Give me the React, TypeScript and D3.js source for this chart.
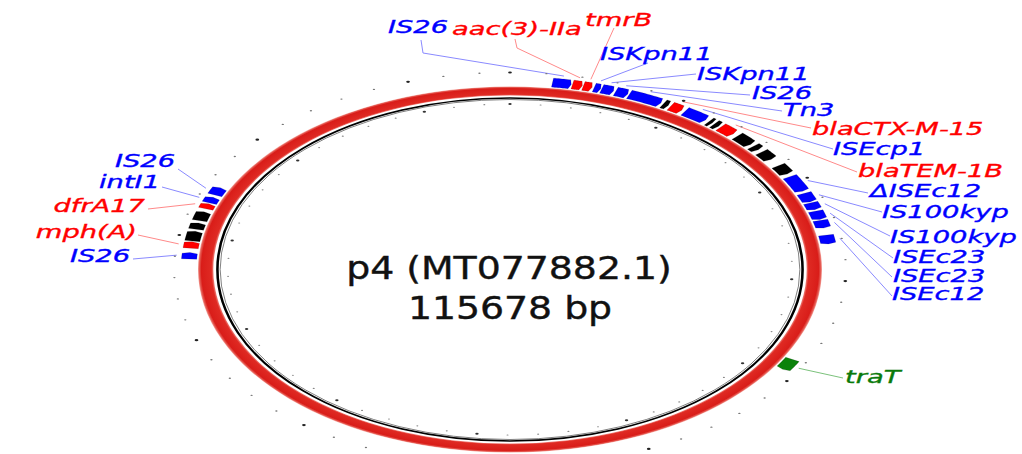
import React from 'react';
import * as d3 from 'd3';

// ---------------- data ----------------
const plasmidName = 'p4 (MT077882.1)';
const plasmidLength = 115678;
const tickStep = 2000;
const majorTickStep = 10000;

const featureNames = [
  'IS26', 'aac(3)-IIa', 'tmrB', 'ISKpn11', 'ISKpn11', 'IS26', 'Tn3', '',
  'blaCTX-M-15', 'ISEcp1', '', '', 'blaTEM-1B', '', '', '', '',
  'ΔISEc12', 'IS100kyp', 'IS100kyp', 'ISEc23', 'ISEc23', 'ISEc12',
  'traT',
  'IS26', 'mph(A)', '', '', '', 'dfrA17', 'intI1', 'IS26',
];
const featureStarts = [
  2440, 3600, 4240, 4880, 5330, 6170, 7000, 9160,
  9640, 10600, 12300, 12690, 13170, 14460, 15810, 16550, 18190,
  19440, 21270, 22270, 23130, 24070, 25550,
  38080,
  87787, 88848, 89555, 90712, 91579, 92799, 93409, 94245,
];
const featureEnds = [
  3530, 4180, 4760, 5270, 6040, 6910, 9000, 9480,
  10380, 12050, 12530, 13010, 14140, 15580, 16260, 17450, 19150,
  21050, 22170, 22970, 23970, 24840, 26410,
  39200,
  88430, 89491, 90519, 91354, 92479, 93313, 93988, 95017,
];
const featureKinds = [
  'mobile', 'resistance', 'resistance', 'mobile', 'mobile', 'mobile', 'mobile', 'other',
  'resistance', 'mobile', 'other', 'other', 'resistance', 'other', 'other', 'other', 'other',
  'mobile', 'mobile', 'mobile', 'mobile', 'mobile', 'mobile',
  'transfer',
  'mobile', 'resistance', 'other', 'other', 'other', 'resistance', 'mobile', 'mobile',
];

// ---------------- layout (label placement, not data) ----------------
type LabelLayout = { f: number; x: number; y: number; anchor: 'start' | 'end'; path: [number, number][] };
const labelLayout: LabelLayout[] = [
  { f: 0, x: 388, y: 33, anchor: 'start', path: [[423, 53], [421, 40]] },
  { f: 1, x: 452, y: 35, anchor: 'start', path: [[517, 48], [515, 39]] },
  { f: 2, x: 585, y: 26, anchor: 'start', path: [[614, 28]] },
  { f: 3, x: 600, y: 60, anchor: 'start', path: [[648, 63]] },
  { f: 4, x: 697, y: 80, anchor: 'start', path: [[696, 74]] },
  { f: 5, x: 752, y: 99, anchor: 'start', path: [[750, 95]] },
  { f: 6, x: 783, y: 116, anchor: 'start', path: [[782, 111]] },
  { f: 8, x: 812, y: 135, anchor: 'start', path: [[811, 128]] },
  { f: 9, x: 833, y: 155, anchor: 'start', path: [[833, 149]] },
  { f: 12, x: 858, y: 177, anchor: 'start', path: [[857, 172]] },
  { f: 17, x: 870, y: 197, anchor: 'start', path: [[868, 193]] },
  { f: 18, x: 882, y: 218, anchor: 'start', path: [[882, 212]] },
  { f: 19, x: 890, y: 243, anchor: 'start', path: [[890, 236]] },
  { f: 20, x: 893, y: 263, anchor: 'start', path: [[893, 258]] },
  { f: 21, x: 893, y: 282, anchor: 'start', path: [[892, 277]] },
  { f: 22, x: 892, y: 300, anchor: 'start', path: [[892, 296]] },
  { f: 23, x: 845, y: 383, anchor: 'start', path: [[843, 378]] },
  { f: 31, x: 175, y: 167, anchor: 'end', path: [[178, 169]] },
  { f: 30, x: 160, y: 188, anchor: 'end', path: [[162, 187]] },
  { f: 29, x: 145, y: 212, anchor: 'end', path: [[148, 209]] },
  { f: 25, x: 137, y: 238, anchor: 'end', path: [[138, 235]] },
  { f: 24, x: 130, y: 262, anchor: 'end', path: [[133, 259]] },
];

const kindFill: Record<string, string> = {
  mobile: '#0000ff',
  resistance: '#ff0000',
  other: '#000000',
  transfer: '#0a820a',
};
const kindLabel: Record<string, string> = {
  mobile: '#0000ff',
  resistance: '#ff0000',
  other: '#000000',
  transfer: '#0a7a0a',
};
const kindLeader: Record<string, string> = {
  mobile: '#8a8aff',
  resistance: '#ff8a8a',
  other: '#888888',
  transfer: '#7cc27c',
};

const W = 1022;
const H = 454;
const cx = 510;
const cy = 269.5;
const sx = 1.705;
const R = {
  ringIn: 174,
  ringOut: 183,
  line1: 171.6,
  line2: 170.0,
  featIn: 184,
  featOut: 193,
  lead: 196,
  tickOut: 197,
  tickIn: 165.5,
};

const angle = d3.scaleLinear().domain([0, plasmidLength]).range([0, 2 * Math.PI]);

const radialLine = d3
  .lineRadial<[number, number]>()
  .angle((d) => d[0])
  .radius((d) => d[1])
  .curve(d3.curveLinearClosed);

function arrowPath(s: number, e: number): string {
  const a0 = angle(s);
  const a1 = angle(e);
  const head = Math.min(0.006, (a1 - a0) * 0.25);
  const bodyEnd = a1 - head;
  const mid = (R.featIn + R.featOut) / 2;
  const n = 10;
  const pts: [number, number][] = [];
  for (let i = 0; i <= n; i++) pts.push([a0 + ((bodyEnd - a0) * i) / n, R.featOut]);
  pts.push([a1, mid]);
  for (let i = n; i >= 0; i--) pts.push([a0 + ((bodyEnd - a0) * i) / n, R.featIn]);
  return radialLine(pts) || '';
}

function toPixel(bp: number, r: number): [number, number] {
  const a = angle(bp);
  return [cx + sx * r * Math.sin(a), cy - r * Math.cos(a)];
}

const ringArc = d3.arc<any>()({
  innerRadius: R.ringIn,
  outerRadius: R.ringOut,
  startAngle: 0,
  endAngle: 2 * Math.PI,
}) as string;

const leaderLine = d3.line<[number, number]>();

export default function App() {
  const ticks = d3.range(0, plasmidLength, tickStep);
  const font = '"DejaVu Sans", Verdana, sans-serif';
  return (
    <svg
      width={W}
      height={H}
      viewBox={`0 0 ${W} ${H}`}
      style={{ position: 'absolute', left: 0, top: 0, background: '#fff' }}
    >
      <defs>
        <radialGradient id="ringGrad" gradientUnits="userSpaceOnUse" cx={0} cy={0} r={R.ringOut}>
          <stop offset={R.ringIn / R.ringOut} stopColor="#ee8079" />
          <stop offset={(R.ringIn + 1.2) / R.ringOut} stopColor="#df2a23" />
          <stop offset={(R.ringOut - 2) / R.ringOut} stopColor="#d91d19" />
          <stop offset={(R.ringOut - 0.8) / R.ringOut} stopColor="#e55a52" />
          <stop offset={1} stopColor="#f5a7a1" />
        </radialGradient>
      </defs>

      {/* leader lines */}
      <g fill="none" strokeWidth={1}>
        {labelLayout.map((l, i) => {
          const f = l.f;
          const start = toPixel((featureStarts[f] + featureEnds[f]) / 2, R.lead);
          const pts: [number, number][] = [start, ...l.path];
          return <path key={i} d={leaderLine(pts) || ''} stroke={kindLeader[featureKinds[f]]} />;
        })}
      </g>

      <g transform={`translate(${cx},${cy}) scale(${sx},1)`}>
        <path d={ringArc} fill="url(#ringGrad)" />
        <circle r={R.line1} fill="none" stroke="#000" strokeWidth={1.5} />
        <circle r={R.line2} fill="none" stroke="#444" strokeWidth={0.5} />

        {ticks.map((t) => {
          const a = angle(t);
          const major = t % majorTickStep === 0;
          return (
            <g key={t}>
              <circle
                cx={R.tickOut * Math.sin(a)}
                cy={-R.tickOut * Math.cos(a)}
                r={major ? 1.1 : 0.7}
                fill={major ? '#222' : '#777'}
              />
              <circle
                cx={R.tickIn * Math.sin(a)}
                cy={-R.tickIn * Math.cos(a)}
                r={major ? 1.0 : 0.6}
                fill={major ? '#333' : '#888'}
              />
            </g>
          );
        })}

        {featureStarts.map((s, i) => (
          <path
            key={i}
            d={arrowPath(s, featureEnds[i])}
            fill={kindFill[featureKinds[i]]}
            stroke="#000"
            strokeOpacity={0.35}
            strokeWidth={0.3}
          />
        ))}
      </g>

      {/* feature labels */}
      <g fontFamily={font} fontStyle="italic" fontSize={18.2}>
        {labelLayout.map((l, i) => {
          const c = kindLabel[featureKinds[l.f]];
          return (
            <text
              key={i}
              transform={`translate(${l.x},${l.y}) scale(1.5,1)`}
              textAnchor={l.anchor}
              fill={c}
              stroke={c}
              strokeWidth={0.35}
            >
              {featureNames[l.f]}
            </text>
          );
        })}
      </g>

      {/* centre title */}
      <g fontFamily={font} fontSize={31.5} fill="#111" stroke="#111" strokeWidth={0.4} textAnchor="middle">
        <text transform={`translate(509,279) scale(1.2,1)`}>{plasmidName}</text>
        <text transform={`translate(510,319) scale(1.2,1)`}>{`${plasmidLength} bp`}</text>
      </g>
    </svg>
  );
}
